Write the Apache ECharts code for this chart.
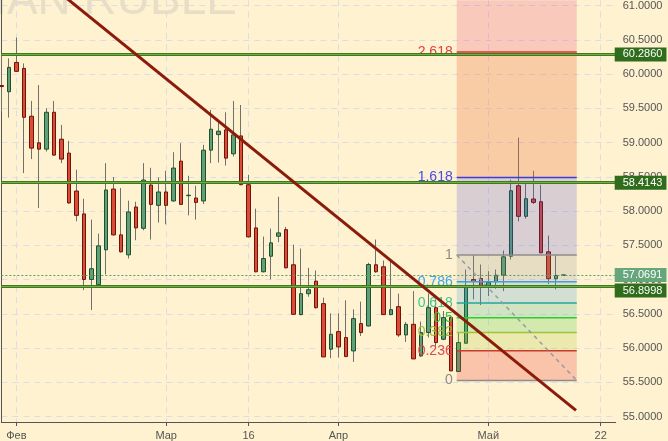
<!DOCTYPE html>
<html><head><meta charset="utf-8">
<script src="https://cdn.jsdelivr.net/npm/echarts@6/dist/echarts.min.js"></script>
<style>html,body{margin:0;padding:0;background:#fef2d0;}#c{width:668px;height:441px;}</style>
</head><body><div id="c"></div>
<script>
// trading days (categories)
const dates = [
'2017-01-30','2017-01-31',
'2017-02-01','2017-02-02','2017-02-03','2017-02-06','2017-02-07','2017-02-08','2017-02-09','2017-02-10','2017-02-13','2017-02-14',
'2017-02-15','2017-02-16','2017-02-17','2017-02-20','2017-02-21','2017-02-22','2017-02-23','2017-02-24','2017-02-27','2017-02-28',
'2017-03-01','2017-03-02','2017-03-03','2017-03-06','2017-03-07','2017-03-08','2017-03-09','2017-03-10','2017-03-13','2017-03-14',
'2017-03-15','2017-03-16','2017-03-17','2017-03-20','2017-03-21','2017-03-22','2017-03-23','2017-03-24','2017-03-27','2017-03-28',
'2017-03-29','2017-03-30','2017-03-31',
'2017-04-03','2017-04-04','2017-04-05','2017-04-06','2017-04-07','2017-04-10','2017-04-11','2017-04-12','2017-04-13','2017-04-14',
'2017-04-17','2017-04-18','2017-04-19','2017-04-20','2017-04-21','2017-04-24','2017-04-25','2017-04-26','2017-04-27','2017-04-28',
'2017-05-01','2017-05-02','2017-05-03','2017-05-04','2017-05-05','2017-05-08','2017-05-09','2017-05-10','2017-05-11','2017-05-12',
'2017-05-15','2017-05-16','2017-05-17','2017-05-18','2017-05-19','2017-05-22','2017-05-23','2017-05-24'
];
const tickDates = ['2017-02-01','2017-03-01','2017-03-16','2017-04-03','2017-05-01','2017-05-22'];
const tickLabels = ['Фев','Мар','16','Апр','Май','22'];

const opens = [
59.832,59.742,60.169,60.082,59.384,58.996,58.904,59.442,59.049,58.846,
58.293,57.959,57.003,56.926,57.435,58.322,57.653,57.362,58.060,57.749,
58.380,58.084,58.279,58.148,58.729,58.225,58.191,58.148,58.889,59.116,
59.185,58.836,59.097,58.385,57.755,57.115,57.342,57.633,57.730,57.217,
56.490,56.795,56.978,56.650,55.985,56.242,56.155,55.960,56.359,56.324,
57.217,57.188,56.490,56.606,56.193,56.348,55.887,56.228,56.591,56.130,
56.446,55.660,56.072,57.003,57.017,56.905,56.970,57.065,57.342,58.370,
57.924,58.177,58.137,57.406,57.013,57.065];
const highs = [
60.276,60.228,60.533,60.155,59.607,59.839,59.500,59.607,59.257,59.025,
58.603,58.181,57.876,57.672,58.700,58.497,58.337,58.152,58.137,58.700,
58.632,58.491,58.588,58.860,58.991,58.516,58.370,58.967,59.476,59.330,
59.442,59.607,59.548,58.530,58.036,57.628,57.745,58.210,57.769,57.512,
57.454,57.173,57.134,56.737,56.508,56.508,56.698,56.567,56.679,57.246,
57.585,57.279,57.260,56.795,56.382,56.833,56.388,56.799,56.712,56.542,
56.479,56.228,57.148,57.356,57.221,57.124,57.148,57.425,58.457,59.073,
58.418,58.588,58.385,57.643,57.356,57.072];
const lows = [
59.451,59.364,60.030,58.555,58.759,58.046,58.869,58.807,58.700,58.108,
57.851,56.847,56.556,56.916,57.076,57.643,57.396,57.308,57.575,57.720,
57.585,57.832,57.807,58.138,58.094,57.938,57.876,58.104,58.700,58.709,
58.665,58.796,58.378,57.614,57.105,57.105,57.003,57.545,57.163,56.487,
56.479,56.751,56.577,55.868,55.854,55.864,55.868,55.800,56.178,56.319,
57.100,56.487,56.482,56.164,56.091,55.839,55.873,56.155,56.024,56.116,
55.665,55.657,56.065,56.712,56.629,56.760,56.868,56.833,57.294,57.851,
57.890,58.104,57.388,56.935,56.857,57.063];
const closes = [
59.817,60.097,60.039,59.369,58.919,58.904,59.442,58.817,58.759,58.119,
57.938,57.003,57.159,57.493,58.308,57.653,57.406,57.988,57.755,58.453,
58.098,58.279,58.084,58.628,58.098,58.232,58.127,58.889,59.195,59.166,
58.773,59.112,58.385,57.624,57.115,57.308,57.537,57.682,57.173,56.494,
56.795,56.853,56.591,55.873,56.203,56.018,55.879,56.431,56.228,57.221,
57.115,56.490,56.562,56.193,56.348,55.844,56.228,56.591,56.082,56.446,
55.669,56.082,56.891,56.974,56.905,56.959,57.065,57.333,58.297,57.924,
58.181,58.127,57.391,57.013,57.061,57.0691];

const hLevels = [60.2860, 58.4143, 56.8998];
const lastPrice = 57.0691;
const trendPoints = [[0, 61.876], [76.70, 55.093]];
const fibX = [60.78, 76.80];
const fibAnchors = [55.530, 57.360]; // level 0, level 1
const fibRatios = [0, 0.236, 0.382, 0.5, 0.618, 0.786, 1, 1.618, 2.618, 3.618];
const fibLabels = ['0','0.236','0.382','0.5','0.618','0.786','1','1.618','2.618','3.618'];
const fibLineColors = ['#8c8c8c','#c93a28','#9bc53d','#2ecc2e','#22a898','#3aa0e0','#8c8c8c','#3c3cdc','#e03030','#e0306e'];
const fibTextColors = ['#8c8c8c','#e04848','#9cbf3a','#34c834','#3cc890','#40a6e4','#8c8c8c','#4a4ae6','#e04040','#e0306e'];
const fibFills = ['', 'rgba(236,60,50,0.25)','rgba(160,200,40,0.2)','rgba(40,200,40,0.2)','rgba(30,170,130,0.2)',
  'rgba(40,150,220,0.2)','rgba(140,140,140,0.2)','rgba(70,70,220,0.2)','rgba(240,90,40,0.25)','rgba(230,40,110,0.2)'];

const wickData = opens.map((o, i) => [o, closes[i], lows[i], highs[i]]);
const bodyData = opens.map((o, i) => [o, closes[i], Math.min(o, closes[i]), Math.max(o, closes[i])]);
const fibPrice = r => fibAnchors[0] + r * (fibAnchors[1] - fibAnchors[0]);
const fibItems = fibRatios.map((r, i) => [fibX[0], fibPrice(r), i]);

const isTick = (idx, val) => tickDates.indexOf(val) >= 0;
const FONT = '"Liberation Sans", Arial, sans-serif';

const chart = echarts.init(document.getElementById('c'), null, {renderer: 'canvas'});
chart.setOption({
  animation: false,
  backgroundColor: '#fef2d0',
  graphic: [{
    type: 'text', x: 237, y: 1, z: -1, silent: true,
    style: {text: 'RUSSIAN RUBLE', font: '46px ' + FONT, fill: '#e8dec6', align: 'right', verticalAlign: 'middle'}
  }],
  grid: {left: 1.35, right: 52.3, top: 0, bottom: 18, containLabel: false},
  xAxis: [{
    type: 'category', data: dates, boundaryGap: false,
    axisLine: {lineStyle: {color: '#555', width: 1}},
    axisTick: {interval: isTick, length: 4, lineStyle: {color: '#555'}},
    axisLabel: {interval: isTick, formatter: v => tickLabels[tickDates.indexOf(v)] || '', color: '#555', fontSize: 11, fontFamily: FONT, margin: 8},
    splitLine: {show: true, interval: isTick, lineStyle: {color: '#dcdce6', type: [6, 5], width: 1}}
  }, {
    type: 'value', min: 0, max: 82, show: false
  }],
  yAxis: [{
    type: 'value', position: 'right', min: 54.923, max: 61.0756, scale: true,
    splitNumber: 12, minInterval: 0.5, maxInterval: 0.5,
    axisLine: {show: true, lineStyle: {color: '#555'}},
    axisTick: {show: false},
    axisLabel: {margin: 7, color: '#555', fontSize: 11, fontFamily: FONT,
      formatter: v => Math.abs(v * 2 - Math.round(v * 2)) < 1e-6 ? v.toFixed(4) : ''},
    splitLine: {show: true, showMinLine: false, showMaxLine: false, lineStyle: {color: '#dcdce6', type: [6, 5], width: 1}}
  }],
  series: [
    {type: 'candlestick', name: 'wicks', data: wickData, barWidth: 1, clip: false, silent: true, z: 2,
      itemStyle: {color: '#707070', color0: '#707070', borderColor: '#707070', borderColor0: '#707070', borderWidth: 1}},
    {type: 'candlestick', name: 'bodies', data: bodyData, barWidth: 4, clip: false, silent: true, z: 2,
      itemStyle: {color: '#5fa078', color0: '#dc4b37', borderColor: '#1e502d', borderColor0: '#6e1408', borderWidth: 1}},
    {type: 'custom', name: 'fib', xAxisIndex: 1, yAxisIndex: 0, z: 3, silent: true, data: fibItems,
      renderItem: (params, api) => {
        const i = api.value(2);
        const cs = params.coordSys;
        const price = api.value(1);
        const a = api.coord([fibX[0], price]);
        const b = api.coord([fibX[1], price]);
        const children = [];
        if (i > 0) {
          const pb = api.coord([fibX[0], fibPrice(fibRatios[i - 1])]);
          const top = Math.max(a[1], cs.y);
          const bottom = Math.min(pb[1], cs.y + cs.height);
          if (bottom > top) children.push({type: 'rect', z2: 1,
            shape: {x: a[0], y: top, width: b[0] - a[0], height: bottom - top}, style: {fill: fibFills[i]}});
        }
        if (a[1] >= cs.y) {
          children.push({type: 'line', z2: 2, shape: {x1: a[0], y1: a[1], x2: b[0], y2: b[1]},
            style: {stroke: fibLineColors[i], lineWidth: 1.5}});
          children.push({type: 'text', z2: 3, x: a[0] - 4, y: a[1],
            style: {text: fibLabels[i], fill: fibTextColors[i], font: '14px ' + FONT, align: 'right', verticalAlign: 'middle'}});
        }
        return {type: 'group', children};
      }
    },
    {type: 'line', name: 'fibDiag', xAxisIndex: 1, z: 4, silent: true, symbol: 'none',
      data: [[fibX[0], fibAnchors[1]], [fibX[1], fibAnchors[0]]],
      lineStyle: {color: '#999aa4', width: 1.5, type: [4, 4]}},
    {type: 'line', name: 'levels', xAxisIndex: 1, z: 5, silent: true, symbol: 'none', data: [],
      markLine: {silent: true, symbol: ['none', 'none'], animation: false, precision: 4,
        lineStyle: {color: '#3d7a20', width: 3, type: 'solid'},
        label: {show: true, position: 'end', distance: -1, formatter: p => hLevels[p.dataIndex].toFixed(4),
          backgroundColor: '#2f6d1d', color: '#fff', fontSize: 11, fontFamily: FONT, padding: [2, 4, 1, 8]},
        data: hLevels.map((v, k) => ({yAxis: v, label: k === 2 ? {offset: [0, 4]} : {}}))}},
    {type: 'line', name: 'levelsHi', xAxisIndex: 1, z: 5, silent: true, symbol: 'none', data: [],
      markLine: {silent: true, symbol: ['none', 'none'], animation: false, precision: 4,
        lineStyle: {color: '#74ad48', width: 1, type: 'solid'}, label: {show: false},
        data: hLevels.map(v => ({yAxis: v}))}},
    {type: 'line', name: 'last', xAxisIndex: 1, z: 5, silent: true, symbol: 'none', data: [],
      markLine: {silent: true, symbol: ['none', 'none'], animation: false, precision: 4,
        lineStyle: {color: '#5c9a66', width: 1, type: [2, 2]},
        label: {show: true, position: 'end', distance: -1, formatter: () => lastPrice.toFixed(4),
          backgroundColor: '#66a67c', color: '#fff', fontSize: 11, fontFamily: FONT, padding: [2, 4, 1, 8]},
        data: [{yAxis: lastPrice}]}},
    {type: 'line', name: 'trend', xAxisIndex: 1, z: 6, silent: true, symbol: 'none', clip: true,
      data: trendPoints, lineStyle: {color: '#8b1c0c', width: 3}}
  ]
});
</script>
</body></html>
